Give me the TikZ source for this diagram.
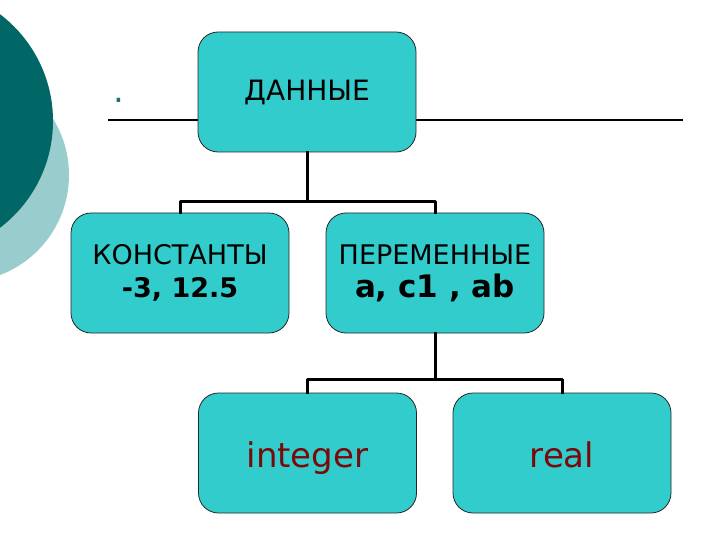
\documentclass[tikz,border=0pt]{standalone}
\usepackage{fontspec}
\setmainfont{DejaVu Sans}
\definecolor{darkteal}{HTML}{006666}
\definecolor{paleteal}{HTML}{99CCCC}
\definecolor{boxcyan}{HTML}{33CCCC}
\definecolor{typered}{HTML}{7A0A0A}
\tikzset{
  databox/.style={draw=black!85, line width=0.8pt, fill=boxcyan, rounded corners=20pt,
    minimum width=218pt, minimum height=120pt, align=center, inner sep=0pt},
  typebox/.style={databox, text=typered, font=\fontsize{34}{40}\selectfont,
    text height=34pt, text depth=6pt},
  tree/.style={line width=3pt, line cap=rect}
}
\begin{document}
\begin{tikzpicture}[x=1pt, y=-1pt, line join=round]
  \useasboundingbox (0,0) rectangle (720,540);
  % circles at the left edge
  \begin{scope}
    \clip (0,0) rectangle (720,540);
    \fill[paleteal] (-38,175) circle (107);
    \fill[darkteal] (-81,121) circle (134);
  \end{scope}
  \node[text=darkteal!70!gray, font=\fontsize{34}{40}\selectfont, anchor=base] (dot) at (119,103) {.};
  \draw[line width=2pt] (108,120) -- (683,120);
  % boxes
  \node[databox, font=\fontsize{28}{32}\selectfont] (data) at (307,92) {ДАННЫЕ};
  \node[databox, font=\fontsize{27}{33}\selectfont] (const) at (180,273) {КОНСТАНТЫ\\\textbf{-3, 12.5}};
  \node[databox, font=\fontsize{27}{33}\selectfont] (vars) at (435,273) {ПЕРЕМЕННЫЕ\\{\fontsize{31}{33}\selectfont\bfseries a, c1 , ab}};
  \node[typebox] (int) at (307.5,453) {integer};
  \node[typebox] (real) at (562,453) {real};
  % connectors
  \draw[tree] (data.south) -- ++(0,49) coordinate (j1);
  \draw[tree] (const.north) |- (j1) -| (vars.north);
  \draw[tree] (vars.south) -- ++(0,46) coordinate (j2);
  \draw[tree] (int.north) |- (j2) -| (real.north);
\end{tikzpicture}
\end{document}
